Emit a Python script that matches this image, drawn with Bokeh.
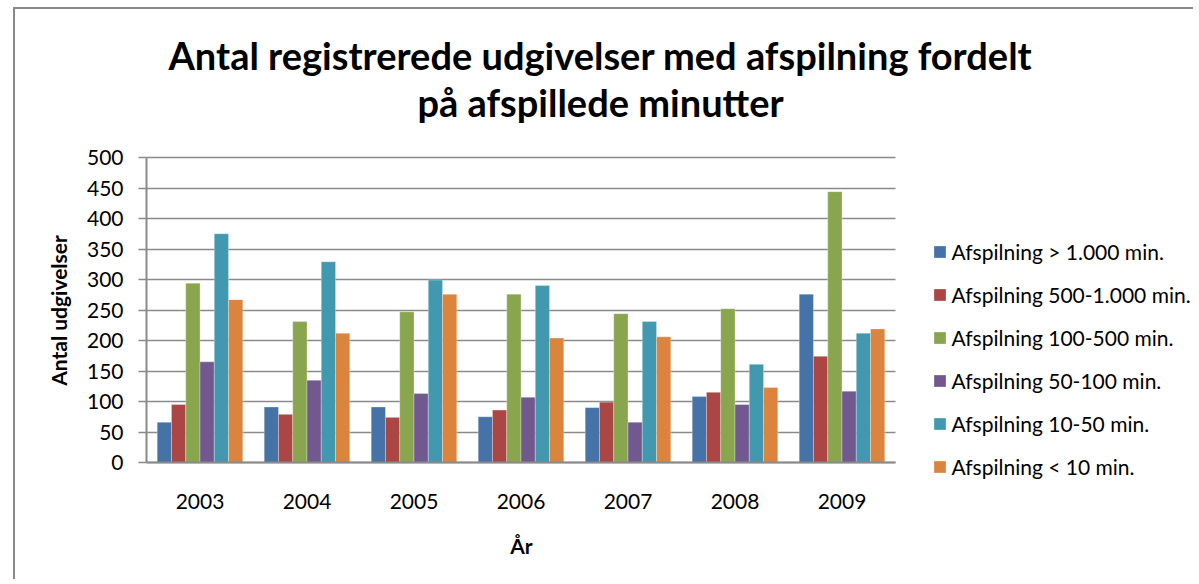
import math
from bokeh.plotting import figure
from bokeh.models import Range1d, Legend, LegendItem, Label, SingleIntervalTicker, FixedTicker
from bokeh.transform import dodge
from bokeh.embed import file_html
from bokeh.resources import INLINE

years = ["2003", "2004", "2005", "2006", "2007", "2008", "2009"]
series_names = [
    "Afspilning > 1.000 min.",
    "Afspilning 500-1.000 min.",
    "Afspilning 100-500 min.",
    "Afspilning 50-100 min.",
    "Afspilning 10-50 min.",
    "Afspilning < 10 min.",
]
over_1000 = [66, 91, 91, 75, 90, 108, 276]
s500_1000 = [95, 79, 74, 86, 99, 115, 174]
s100_500 = [294, 231, 247, 276, 244, 252, 444]
s50_100 = [165, 135, 113, 107, 66, 95, 117]
s10_50 = [375, 329, 299, 290, 231, 161, 212]
under_10 = [267, 212, 276, 204, 206, 123, 219]
colors = ["#4572A7", "#AA4643", "#89A54E", "#71588F", "#4198AF", "#DB843D"]
title_lines = ["Antal registrerede udgivelser med afspilning fordelt", "på afspillede minutter"]
y_title = "Antal udgivelser"
x_title = "År"
Y_MAX = 500

FONT = "Lato"
n = len(years)

# page layout (pixels): figure content origin, plot-area placement
W, H = 1180, 572
ORIG_X, ORIG_Y = 15, 9
AREA_LEFT, AREA_BOTTOM, AREA_TOP = 146, 462, 157
PX_X = 107.0                                  # pixels per category
PX_Y = (AREA_BOTTOM - AREA_TOP) / Y_MAX       # pixels per unit


def px_to_x(px):
    return -0.5 + (px - AREA_LEFT) / PX_X


def px_to_y(py):
    return (AREA_BOTTOM - py) / PX_Y


p = figure(
    x_range=Range1d(px_to_x(ORIG_X), px_to_x(ORIG_X + W)),
    y_range=Range1d(px_to_y(ORIG_Y + H), px_to_y(ORIG_Y)),
    width=W, height=H, output_backend="svg", toolbar_location=None,
    min_border_left=0, min_border_right=0, min_border_top=0, min_border_bottom=0,
)
p.margin = (7, 0, 0, 13)
p.styles = {"border-left": "2px solid #8a8a8a", "border-top": "2px solid #8a8a8a"}
p.outline_line_color = None

data = dict(x=list(range(n)), a=over_1000, b=s500_1000, c=s100_500, d=s50_100, e=s10_50, f=under_10)
keys = ["a", "b", "c", "d", "e", "f"]
w = 0.8 / 6
items = []
for i, k in enumerate(keys):
    r = p.vbar(x=dodge("x", (i - 2.5) * w), top=k, width=w, source=data,
               fill_color=colors[i], line_color="white", line_alpha=0.5, line_width=0.6)
    items.append(LegendItem(label=series_names[i], renderers=[r]))

legend = Legend(items=items, location=(931.5 - ORIG_X, ORIG_Y + H - 479), padding=0, margin=0,
                spacing=18, glyph_width=15, glyph_height=15, label_height=21, label_standoff=5,
                label_text_font=FONT, label_text_font_size="21px", label_text_color="black",
                border_line_color=None, background_fill_alpha=0)
p.add_layout(legend, "center")

# titles
p.add_layout(Label(x=px_to_x(600), y=px_to_y(54), text=title_lines[0], text_align="center",
                   text_baseline="middle", text_font=FONT, text_font_size="38px",
                   text_font_style="bold", text_color="black"))
p.add_layout(Label(x=px_to_x(600), y=px_to_y(101), text=title_lines[1], text_align="center",
                   text_baseline="middle", text_font=FONT, text_font_size="38px",
                   text_font_style="bold", text_color="black"))
p.add_layout(Label(x=px_to_x(58), y=px_to_y(310), text=y_title, angle=math.pi / 2,
                   text_align="center", text_baseline="middle", text_font=FONT,
                   text_font_size="21px", text_font_style="bold", text_color="black"))
p.add_layout(Label(x=px_to_x(521), y=px_to_y(545), text=x_title, text_align="center",
                   text_baseline="middle", text_font=FONT, text_font_size="21px",
                   text_font_style="bold", text_color="black"))

# grid
p.xgrid.grid_line_color = None
p.ygrid.ticker = SingleIntervalTicker(interval=50)
p.ygrid.bounds = (0, Y_MAX)
p.ygrid.cross_bounds = (-0.5, n - 0.5)
p.ygrid.grid_line_color = "#8a8a8a"
p.ygrid.grid_line_width = 1.5

# axes
for ax in (p.xaxis, p.yaxis):
    ax.axis_line_color = "#8a8a8a"
    ax.axis_line_width = 2
    ax.major_label_text_font = FONT
    ax.major_label_text_font_size = "21px"
    ax.major_label_text_color = "black"
    ax.minor_tick_line_color = None
    ax.axis_label = None
p.yaxis.fixed_location = -0.5
p.yaxis.ticker = SingleIntervalTicker(interval=50)
p.yaxis.bounds = (0, Y_MAX)
p.yaxis.major_tick_out = 8
p.yaxis.major_tick_in = 0
p.yaxis.major_tick_line_color = "#8a8a8a"
p.yaxis.major_tick_line_width = 1.5
p.yaxis.major_label_standoff = 15
p.xaxis.fixed_location = 0
p.xaxis.ticker = FixedTicker(ticks=list(range(n)))
p.xaxis.major_label_overrides = {i: y for i, y in enumerate(years)}
p.xaxis.bounds = (-0.5, n - 0.5)
p.xaxis.major_tick_line_color = None
p.xaxis.major_label_standoff = 25

open("out.html", "w").write(file_html(p, INLINE))
